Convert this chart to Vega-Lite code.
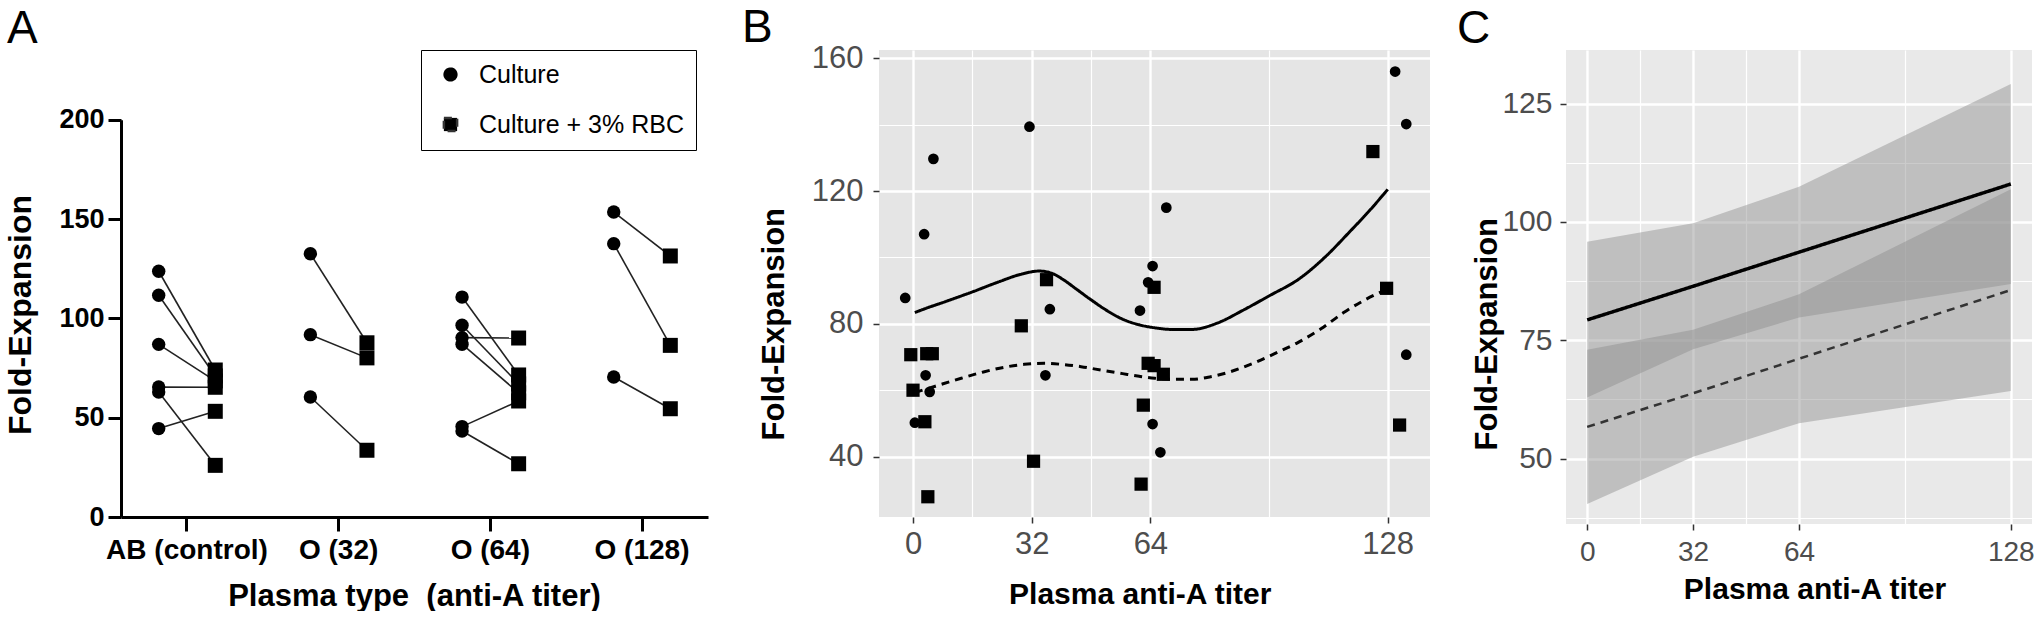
{
  "$schema": "https://vega.github.io/schema/vega-lite/v6.json",
  "background": "white",
  "padding": {"left": 4, "top": 5, "right": 0, "bottom": 0},
  "config": {
    "view": {"stroke": null},
    "font": "Liberation Sans",
    "axis": {"labelFont": "Liberation Sans", "titleFont": "Liberation Sans"},
    "legend": {"labelFont": "Liberation Sans"},
    "title": {"font": "Liberation Sans", "fontSize": 46, "fontWeight": "normal", "color": "black", "anchor": "start", "frame": "group", "baseline": "alphabetic", "offset": -3}
  },
  "datasets": {
    "a": [
      {"plasma": "AB (control)", "pair": "AB1", "condition": "Culture", "fold": 123.7},
      {"plasma": "AB (control)", "pair": "AB1", "condition": "Culture + 3% RBC", "fold": 74},
      {"plasma": "AB (control)", "pair": "AB2", "condition": "Culture", "fold": 111.6},
      {"plasma": "AB (control)", "pair": "AB2", "condition": "Culture + 3% RBC", "fold": 71},
      {"plasma": "AB (control)", "pair": "AB3", "condition": "Culture", "fold": 86.9},
      {"plasma": "AB (control)", "pair": "AB3", "condition": "Culture + 3% RBC", "fold": 68.5},
      {"plasma": "AB (control)", "pair": "AB4", "condition": "Culture", "fold": 65.4},
      {"plasma": "AB (control)", "pair": "AB4", "condition": "Culture + 3% RBC", "fold": 65.3},
      {"plasma": "AB (control)", "pair": "AB5", "condition": "Culture", "fold": 62.9},
      {"plasma": "AB (control)", "pair": "AB5", "condition": "Culture + 3% RBC", "fold": 26},
      {"plasma": "AB (control)", "pair": "AB6", "condition": "Culture", "fold": 44.5},
      {"plasma": "AB (control)", "pair": "AB6", "condition": "Culture + 3% RBC", "fold": 53.2},
      {"plasma": "O (32)", "pair": "O32a", "condition": "Culture", "fold": 132.5},
      {"plasma": "O (32)", "pair": "O32a", "condition": "Culture + 3% RBC", "fold": 87.7},
      {"plasma": "O (32)", "pair": "O32b", "condition": "Culture", "fold": 91.8},
      {"plasma": "O (32)", "pair": "O32b", "condition": "Culture + 3% RBC", "fold": 80.1},
      {"plasma": "O (32)", "pair": "O32c", "condition": "Culture", "fold": 60.4},
      {"plasma": "O (32)", "pair": "O32c", "condition": "Culture + 3% RBC", "fold": 33.6},
      {"plasma": "O (64)", "pair": "O64a", "condition": "Culture", "fold": 110.7},
      {"plasma": "O (64)", "pair": "O64a", "condition": "Culture + 3% RBC", "fold": 71.5},
      {"plasma": "O (64)", "pair": "O64b", "condition": "Culture", "fold": 96.5},
      {"plasma": "O (64)", "pair": "O64b", "condition": "Culture + 3% RBC", "fold": 67},
      {"plasma": "O (64)", "pair": "O64c", "condition": "Culture", "fold": 90.3},
      {"plasma": "O (64)", "pair": "O64c", "condition": "Culture + 3% RBC", "fold": 90.1},
      {"plasma": "O (64)", "pair": "O64d", "condition": "Culture", "fold": 87},
      {"plasma": "O (64)", "pair": "O64d", "condition": "Culture + 3% RBC", "fold": 62.5},
      {"plasma": "O (64)", "pair": "O64e", "condition": "Culture", "fold": 45.5},
      {"plasma": "O (64)", "pair": "O64e", "condition": "Culture + 3% RBC", "fold": 58.4},
      {"plasma": "O (64)", "pair": "O64f", "condition": "Culture", "fold": 43.3},
      {"plasma": "O (64)", "pair": "O64f", "condition": "Culture + 3% RBC", "fold": 26.8},
      {"plasma": "O (128)", "pair": "O128a", "condition": "Culture", "fold": 153.5},
      {"plasma": "O (128)", "pair": "O128a", "condition": "Culture + 3% RBC", "fold": 131.4},
      {"plasma": "O (128)", "pair": "O128b", "condition": "Culture", "fold": 137.6},
      {"plasma": "O (128)", "pair": "O128b", "condition": "Culture + 3% RBC", "fold": 86.4},
      {"plasma": "O (128)", "pair": "O128c", "condition": "Culture", "fold": 70.5},
      {"plasma": "O (128)", "pair": "O128c", "condition": "Culture + 3% RBC", "fold": 54.5}
    ],
    "bpts": [
      {"titer": -2.1, "fold": 87.8, "condition": "Culture"},
      {"titer": 3.0, "fold": 107.0, "condition": "Culture"},
      {"titer": 5.5, "fold": 129.7, "condition": "Culture"},
      {"titer": 0.5, "fold": 50.2, "condition": "Culture"},
      {"titer": 3.4, "fold": 64.5, "condition": "Culture"},
      {"titer": 4.5, "fold": 59.5, "condition": "Culture"},
      {"titer": 31.4, "fold": 139.4, "condition": "Culture"},
      {"titer": 36.9, "fold": 84.4, "condition": "Culture"},
      {"titer": 35.7, "fold": 64.5, "condition": "Culture"},
      {"titer": 68.3, "fold": 115.0, "condition": "Culture"},
      {"titer": 64.6, "fold": 97.4, "condition": "Culture"},
      {"titer": 63.4, "fold": 92.5, "condition": "Culture"},
      {"titer": 61.2, "fold": 84.0, "condition": "Culture"},
      {"titer": 64.6, "fold": 49.8, "condition": "Culture"},
      {"titer": 66.7, "fold": 41.3, "condition": "Culture"},
      {"titer": 130.0, "fold": 156.0, "condition": "Culture"},
      {"titer": 133.0, "fold": 140.2, "condition": "Culture"},
      {"titer": 133.0, "fold": 70.7, "condition": "Culture"},
      {"titer": -0.6, "fold": 70.7, "condition": "Culture + 3% RBC"},
      {"titer": 3.7, "fold": 71.0, "condition": "Culture + 3% RBC"},
      {"titer": 5.2, "fold": 71.0, "condition": "Culture + 3% RBC"},
      {"titer": 0.0, "fold": 60.0, "condition": "Culture + 3% RBC"},
      {"titer": 3.2, "fold": 50.5, "condition": "Culture + 3% RBC"},
      {"titer": 4.0, "fold": 27.9, "condition": "Culture + 3% RBC"},
      {"titer": 29.2, "fold": 79.4, "condition": "Culture + 3% RBC"},
      {"titer": 36.0, "fold": 93.3, "condition": "Culture + 3% RBC"},
      {"titer": 32.5, "fold": 38.6, "condition": "Culture + 3% RBC"},
      {"titer": 63.4, "fold": 68.1, "condition": "Culture + 3% RBC"},
      {"titer": 65.0, "fold": 67.4, "condition": "Culture + 3% RBC"},
      {"titer": 67.5, "fold": 64.8, "condition": "Culture + 3% RBC"},
      {"titer": 62.1, "fold": 55.5, "condition": "Culture + 3% RBC"},
      {"titer": 61.5, "fold": 31.7, "condition": "Culture + 3% RBC"},
      {"titer": 65.0, "fold": 91.0, "condition": "Culture + 3% RBC"},
      {"titer": 124.0, "fold": 131.9, "condition": "Culture + 3% RBC"},
      {"titer": 127.7, "fold": 90.7, "condition": "Culture + 3% RBC"},
      {"titer": 131.2, "fold": 49.5, "condition": "Culture + 3% RBC"}
    ],
    "bfit": [
      {"titer": 0.5, "fold": 83.4, "condition": "Culture"},
      {"titer": 2.6, "fold": 84.3, "condition": "Culture"},
      {"titer": 9, "fold": 86.8, "condition": "Culture"},
      {"titer": 16.2, "fold": 89.7, "condition": "Culture"},
      {"titer": 23, "fold": 92.6, "condition": "Culture"},
      {"titer": 29, "fold": 94.9, "condition": "Culture"},
      {"titer": 34, "fold": 95.9, "condition": "Culture"},
      {"titer": 37.5, "fold": 95.2, "condition": "Culture"},
      {"titer": 40.4, "fold": 93.4, "condition": "Culture"},
      {"titer": 44, "fold": 90.5, "condition": "Culture"},
      {"titer": 47.8, "fold": 87.4, "condition": "Culture"},
      {"titer": 52, "fold": 84.2, "condition": "Culture"},
      {"titer": 56.5, "fold": 81.4, "condition": "Culture"},
      {"titer": 61, "fold": 79.7, "condition": "Culture"},
      {"titer": 65.2, "fold": 78.8, "condition": "Culture"},
      {"titer": 70, "fold": 78.3, "condition": "Culture"},
      {"titer": 75.2, "fold": 78.3, "condition": "Culture"},
      {"titer": 82, "fold": 80.2, "condition": "Culture"},
      {"titer": 89, "fold": 84.1, "condition": "Culture"},
      {"titer": 96, "fold": 88.4, "condition": "Culture"},
      {"titer": 104.3, "fold": 93.7, "condition": "Culture"},
      {"titer": 111, "fold": 100.0, "condition": "Culture"},
      {"titer": 117.8, "fold": 107.8, "condition": "Culture"},
      {"titer": 123, "fold": 114.0, "condition": "Culture"},
      {"titer": 128, "fold": 120.5, "condition": "Culture"},
      {"titer": 0.5, "fold": 59.3, "condition": "Culture + 3% RBC"},
      {"titer": 6, "fold": 61.2, "condition": "Culture + 3% RBC"},
      {"titer": 13, "fold": 63.6, "condition": "Culture + 3% RBC"},
      {"titer": 19, "fold": 65.5, "condition": "Culture + 3% RBC"},
      {"titer": 25.5, "fold": 67.1, "condition": "Culture + 3% RBC"},
      {"titer": 30, "fold": 67.8, "condition": "Culture + 3% RBC"},
      {"titer": 35.4, "fold": 68.1, "condition": "Culture + 3% RBC"},
      {"titer": 40, "fold": 67.8, "condition": "Culture + 3% RBC"},
      {"titer": 45.3, "fold": 67.1, "condition": "Culture + 3% RBC"},
      {"titer": 51, "fold": 66.0, "condition": "Culture + 3% RBC"},
      {"titer": 56.5, "fold": 65.0, "condition": "Culture + 3% RBC"},
      {"titer": 61, "fold": 64.2, "condition": "Culture + 3% RBC"},
      {"titer": 65.2, "fold": 63.6, "condition": "Culture + 3% RBC"},
      {"titer": 70, "fold": 63.3, "condition": "Culture + 3% RBC"},
      {"titer": 75.2, "fold": 63.3, "condition": "Culture + 3% RBC"},
      {"titer": 80, "fold": 64.0, "condition": "Culture + 3% RBC"},
      {"titer": 85.1, "fold": 65.4, "condition": "Culture + 3% RBC"},
      {"titer": 91, "fold": 67.8, "condition": "Culture + 3% RBC"},
      {"titer": 97.5, "fold": 71.0, "condition": "Culture + 3% RBC"},
      {"titer": 104, "fold": 74.5, "condition": "Culture + 3% RBC"},
      {"titer": 110, "fold": 78.5, "condition": "Culture + 3% RBC"},
      {"titer": 116, "fold": 83.3, "condition": "Culture + 3% RBC"},
      {"titer": 122, "fold": 87.3, "condition": "Culture + 3% RBC"},
      {"titer": 128, "fold": 90.5, "condition": "Culture + 3% RBC"}
    ],
    "cfit": [
      {"titer": 0, "fit": 79.3, "lo": 62.9, "hi": 95.8, "condition": "Culture"},
      {"titer": 32, "fit": 86.4, "lo": 73.1, "hi": 99.7, "condition": "Culture"},
      {"titer": 64, "fit": 93.6, "lo": 79.8, "hi": 107.4, "condition": "Culture"},
      {"titer": 128, "fit": 108.0, "lo": 86.9, "hi": 129.1, "condition": "Culture"},
      {"titer": 0, "fit": 56.7, "lo": 40.4, "hi": 73.0, "condition": "Culture + 3% RBC"},
      {"titer": 32, "fit": 63.8, "lo": 50.4, "hi": 77.2, "condition": "Culture + 3% RBC"},
      {"titer": 64, "fit": 71.1, "lo": 57.5, "hi": 84.7, "condition": "Culture + 3% RBC"},
      {"titer": 128, "fit": 85.6, "lo": 64.3, "hi": 106.9, "condition": "Culture + 3% RBC"}
    ]
  },
  "spacing": 34,
  "hconcat": [
    {
      "width": 587,
      "height": 467,
      "title": {"text": "A", "dx": -114},
      "data": {"name": "a"},
      "encoding": {
        "x": {
          "field": "plasma", "type": "nominal",
          "sort": ["AB (control)", "O (32)", "O (64)", "O (128)"],
          "scale": {"type": "band", "paddingInner": 0.13, "paddingOuter": 0},
          "axis": {
            "title": "Plasma type\u00a0\u00a0(anti-A titer)",
            "labelAngle": 0, "labelFontSize": 28, "labelFontWeight": "bold", "labelColor": "black",
            "labelPadding": 5, "tickSize": 14, "tickWidth": 3, "tickColor": "black",
            "domainColor": "black", "domainWidth": 3, "grid": false,
            "titleFontSize": 31, "titleFontWeight": "bold", "titleColor": "black",
            "titleX": 293, "titleY": 88, "titleBaseline": "alphabetic", "titleAlign": "center"
          }
        },
        "y": {
          "field": "fold", "type": "quantitative",
          "scale": {"domain": [0, 200], "range": [467, 69.7], "nice": false},
          "axis": {
            "values": [0, 50, 100, 150, 200], "domain": true, "domainColor": "black", "domainWidth": 3, "grid": false,
            "tickColor": "black", "tickWidth": 3, "tickSize": 13,
            "labelFontSize": 27, "labelFontWeight": "bold", "labelColor": "black", "labelPadding": 4,
            "title": "Fold-Expansion", "titleFontSize": 32, "titleFontWeight": "bold", "titleColor": "black",
            "titleAngle": -90, "titleX": -90.5, "titleY": 264.5, "titleBaseline": "alphabetic", "titleAlign": "center"
          }
        }
      },
      "layer": [
        {
          "mark": {"type": "line", "color": "#222222", "strokeWidth": 1.6},
          "encoding": {
            "xOffset": {
              "field": "condition", "type": "nominal",
              "sort": ["Culture", "Culture + 3% RBC"],
              "scale": {"type": "point", "padding": 0.666}
            },
            "detail": {"field": "pair", "type": "nominal"}
          }
        },
        {
          "transform": [{"filter": "datum.condition === 'Culture'"}],
          "mark": {"type": "point", "filled": true, "color": "black", "opacity": 1, "size": 180},
          "encoding": {
            "xOffset": {
              "field": "condition", "type": "nominal",
              "sort": ["Culture", "Culture + 3% RBC"],
              "scale": {"type": "point", "padding": 0.666}
            },
            "shape": {
              "field": "condition", "type": "nominal",
              "scale": {"domain": ["Culture", "Culture + 3% RBC"], "range": ["circle", "square"]},
              "legend": {
                "orient": "none", "legendX": 300, "legendY": 0, "title": null,
                "padding": 12, "symbolOffset": 5, "rowPadding": 24, "labelOffset": 16,
                "labelFontSize": 25, "labelColor": "black", "labelLimit": 500,
                "strokeColor": "black", "fillColor": "white", "symbolSize": 841,
                "encode": {
                  "legend": {"update": {"strokeWidth": {"value": 3}}},
                  "symbols": {"update": {
                    "shape": {"signal": "datum.value === 'Culture' ? 'M-1,-0.07H1V0.07H-1Z M0.48,0A0.48,0.48 0 1,1 -0.48,0A0.48,0.48 0 1,1 0.48,0Z' : 'M-1,-0.07H1V0.07H-1Z M-0.46,-0.46H0.46V0.46H-0.46Z'"},
                    "fill": {"value": "black"}, "strokeWidth": {"value": 0}, "size": {"value": 841}, "opacity": {"value": 1}
                  }}
                }
              }
            }
          }
        },
        {
          "transform": [{"filter": "datum.condition === 'Culture + 3% RBC'"}],
          "mark": {"type": "point", "filled": true, "color": "black", "opacity": 1, "size": 225},
          "encoding": {
            "xOffset": {
              "field": "condition", "type": "nominal",
              "sort": ["Culture", "Culture + 3% RBC"],
              "scale": {"type": "point", "padding": 0.666}
            },
            "shape": {
              "field": "condition", "type": "nominal",
              "scale": {"domain": ["Culture", "Culture + 3% RBC"], "range": ["circle", "square"]}
            }
          }
        }
      ]
    },
    {
      "spacing": 27,
      "hconcat": [
        {
          "width": 551,
          "height": 467,
          "view": {"fill": "#e5e5e5", "stroke": null},
          "title": {"text": "B", "dx": -137, "offset": -10},
          "encoding": {
            "x": {
              "field": "titer", "type": "quantitative",
              "scale": {"domain": [-9.17, 139.4], "nice": false, "zero": false},
              "axis": {
                "title": "Plasma anti-A titer",
                "values": [0, 16, 32, 48, 64, 96, 128],
                "labelExpr": "indexof([16,48,96], datum.value) >= 0 ? '' : datum.label",
                "tickOpacity": {"condition": {"test": "indexof([16,48,96], datum.value) >= 0", "value": 0}, "value": 1},
                "gridWidth": {"condition": {"test": "indexof([16,48,96], datum.value) >= 0", "value": 1.2}, "value": 2.4},
                "gridColor": "white", "gridOpacity": 1, "grid": true, "domain": false,
                "tickColor": "#333333", "tickSize": 6, "tickWidth": 1.5,
                "labelFontSize": 31, "labelColor": "#4d4d4d", "labelPadding": 6, "labelFlush": false, "labelOverlap": false,
                "titleFontSize": 30, "titleFontWeight": "bold", "titleColor": "black",
                "titleX": 260.7, "titleY": 86.7, "titleBaseline": "alphabetic", "titleAlign": "center"
              }
            },
            "y": {
              "field": "fold", "type": "quantitative",
              "scale": {"domain": [21.8, 162.5], "nice": false, "zero": false},
              "axis": {
                "title": "Fold-Expansion",
                "values": [40, 60, 80, 100, 120, 140, 160],
                "labelExpr": "indexof([60,100,140], datum.value) >= 0 ? '' : datum.label",
                "tickOpacity": {"condition": {"test": "indexof([60,100,140], datum.value) >= 0", "value": 0}, "value": 1},
                "gridWidth": {"condition": {"test": "indexof([60,100,140], datum.value) >= 0", "value": 1.2}, "value": 2.4},
                "gridColor": "white", "gridOpacity": 1, "grid": true, "domain": false,
                "tickColor": "#333333", "tickSize": 6, "tickWidth": 1.5,
                "labelFontSize": 31, "labelColor": "#4d4d4d", "labelPadding": 10, "labelOverlap": false,
                "titleFontSize": 31, "titleFontWeight": "bold", "titleColor": "black",
                "titleAngle": -90, "titleX": -95.3, "titleY": 273.7, "titleBaseline": "alphabetic", "titleAlign": "center"
              }
            }
          },
          "layer": [
            {
              "data": {"name": "bfit"},
              "mark": {"type": "line", "color": "black", "strokeWidth": 3, "interpolate": "monotone"},
              "encoding": {
                "strokeDash": {
                  "field": "condition", "type": "nominal",
                  "scale": {"domain": ["Culture", "Culture + 3% RBC"], "range": [[1, 0], [8, 6]]},
                  "legend": null
                }
              }
            },
            {
              "data": {"name": "bpts"},
              "mark": {"type": "point", "filled": true, "color": "black", "opacity": 1},
              "encoding": {
                "shape": {
                  "field": "condition", "type": "nominal",
                  "scale": {"domain": ["Culture", "Culture + 3% RBC"], "range": ["circle", "square"]},
                  "legend": null
                },
                "size": {
                  "field": "condition", "type": "nominal",
                  "scale": {"domain": ["Culture", "Culture + 3% RBC"], "range": [115, 175]},
                  "legend": null
                }
              }
            }
          ]
        },
        {
          "width": 466,
          "height": 474,
          "view": {"fill": "#e9e9e9", "stroke": null},
          "title": {"text": "C", "dx": -109},
          "data": {"name": "cfit"},
          "encoding": {
            "x": {
              "field": "titer", "type": "quantitative",
              "scale": {"domain": [-6.4, 134.4], "nice": false, "zero": false},
              "axis": {
                "title": "Plasma anti-A titer",
                "values": [0, 16, 32, 48, 64, 96, 128],
                "labelExpr": "indexof([16,48,96], datum.value) >= 0 ? '' : datum.label",
                "tickOpacity": {"condition": {"test": "indexof([16,48,96], datum.value) >= 0", "value": 0}, "value": 1},
                "gridWidth": {"condition": {"test": "indexof([16,48,96], datum.value) >= 0", "value": 1.2}, "value": 2.4},
                "gridColor": "white", "gridOpacity": 1, "grid": true, "domain": false,
                "tickColor": "#333333", "tickSize": 6, "tickWidth": 1.5,
                "labelFontSize": 28, "labelColor": "#4d4d4d", "labelPadding": 8, "labelFlush": false, "labelOverlap": false,
                "titleFontSize": 30, "titleFontWeight": "bold", "titleColor": "black",
                "titleX": 248.5, "titleY": 74.7, "titleBaseline": "alphabetic", "titleAlign": "center"
              }
            }
          },
          "layer": [
            {
              "mark": {"type": "area", "color": "#8c8c8c", "opacity": 0.45},
              "encoding": {
                "y": {
                  "field": "lo", "type": "quantitative",
                  "scale": {"domain": [36.2, 136.3], "nice": false, "zero": false},
                  "axis": {
                    "title": "Fold-Expansion",
                    "values": [37.5, 50, 62.5, 75, 87.5, 100, 112.5, 125],
                    "labelExpr": "indexof([37.5,62.5,87.5,112.5], datum.value) >= 0 ? '' : datum.label",
                    "tickOpacity": {"condition": {"test": "indexof([37.5,62.5,87.5,112.5], datum.value) >= 0", "value": 0}, "value": 1},
                    "gridWidth": {"condition": {"test": "indexof([37.5,62.5,87.5,112.5], datum.value) >= 0", "value": 1.2}, "value": 2.4},
                    "gridColor": "white", "gridOpacity": 1, "grid": true, "domain": false,
                    "tickColor": "#333333", "tickSize": 6, "tickWidth": 1.5,
                    "labelFontSize": 30, "labelColor": "#4d4d4d", "labelPadding": 8, "labelOverlap": false,
                    "titleFontSize": 31, "titleFontWeight": "bold", "titleColor": "black",
                    "titleAngle": -90, "titleX": -70, "titleY": 283.7, "titleBaseline": "alphabetic", "titleAlign": "center"
                  }
                },
                "y2": {"field": "hi"},
                "detail": {"field": "condition", "type": "nominal"}
              }
            },
            {
              "mark": {"type": "line"},
              "encoding": {
                "y": {"field": "fit", "type": "quantitative", "title": "Fold-Expansion"},
                "strokeDash": {
                  "field": "condition", "type": "nominal",
                  "scale": {"domain": ["Culture", "Culture + 3% RBC"], "range": [[1, 0], [2.5, 2]]},
                  "legend": null
                },
                "strokeWidth": {
                  "field": "condition", "type": "nominal",
                  "scale": {"domain": ["Culture", "Culture + 3% RBC"], "range": [3.5, 2.5]},
                  "legend": null
                },
                "color": {
                  "field": "condition", "type": "nominal",
                  "scale": {"domain": ["Culture", "Culture + 3% RBC"], "range": ["#000000", "#333333"]},
                  "legend": null
                }
              }
            },
            {
              "data": {"values": [{}]},
              "mark": {"type": "rect", "color": "white", "opacity": 1},
              "encoding": {
                "x": {"datum": -6.4, "type": "quantitative"},
                "x2": {"datum": 134.4},
                "y": {"datum": 134.6, "type": "quantitative"},
                "y2": {"datum": 136.3}
              }
            }
          ]
        }
      ]
    }
  ]
}
